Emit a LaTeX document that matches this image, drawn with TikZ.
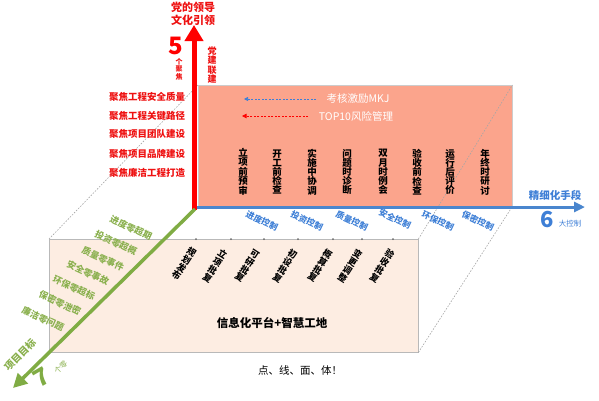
\documentclass[tikz,border=0pt]{standalone}
\usepackage{fontspec}
\newfontfamily\cjk{Noto Sans CJK SC}
\usetikzlibrary{arrows.meta}
\definecolor{axred}{HTML}{FF0000}
\definecolor{labred}{HTML}{EE1111}
\definecolor{axblue}{HTML}{4A86CE}
\definecolor{labblue}{HTML}{3E7FD6}
\definecolor{axgreen}{HTML}{80AC44}
\definecolor{labgreen}{HTML}{8AB04E}
\definecolor{salmon}{HTML}{FBA48C}
\definecolor{peach}{HTML}{FDEDE2}
\begin{document}
\begin{tikzpicture}[x=1pt,y=-1pt,font=\cjk,
  redhead/.style={text=labred,font=\cjk\bfseries\fontsize{11}{12}\selectfont,inner sep=0},
  redlbl/.style={text=labred,font=\cjk\bfseries\fontsize{9.5}{10}\selectfont,inner sep=0},
  redstack/.style={text=labred,align=center,font=\cjk\bfseries\fontsize{9}{9.3}\selectfont,inner sep=0},
  colstack/.style={align=center,font=\cjk\bfseries\fontsize{9.5}{9.2}\selectfont,inner sep=0},
  botstack/.style={align=center,font=\cjk\bfseries\fontsize{9}{9.2}\selectfont,inner sep=0,rotate=-33},
  bluelbl/.style={text=labblue,font=\cjk\bfseries\fontsize{8.5}{9}\selectfont,inner sep=0,rotate=-25},
  greenlbl/.style={text=labgreen,font=\cjk\bfseries\fontsize{9}{9}\selectfont,inner sep=0,rotate=-25},
  whitelbl/.style={text=white,font=\cjk\fontsize{10.5}{11}\selectfont,inner sep=0},
  dashline/.style={draw=gray!70,line width=0.6pt,dash pattern=on 1.6pt off 1.4pt},
  tickdot/.style={circle,fill=gray!80!black,inner sep=0,minimum size=2pt}
]
\useasboundingbox (0,0) rectangle (599,400);

% faces
\node[draw=gray!55,fill=peach,anchor=north west,inner sep=0,minimum width=369pt,minimum height=113pt] (base) at (49,239) {};
\node[draw=gray!40,fill=salmon,anchor=north west,inner sep=0,minimum width=314pt,minimum height=121pt] (top) at (198,85) {};

% dashed edges
\draw[dashline] (base.north west) -- (top.north west);
\draw[dashline] (base.north east) -- (top.north east);
\draw[dashline] (base.south east) -- (top.south east);

% axes
\coordinate (O) at (195,207);
\coordinate (redbot) at (194,210);
\coordinate (redtip) at (194,25);
\coordinate (bluetip) at (585,207);
\coordinate (greenstart) at (195,209);
\coordinate (greentip) at (13,388);
\draw[axblue,line width=3pt,-{Triangle[length=11pt,width=10pt]}] (O) -- (bluetip);
\draw[axred,line width=5pt,-{Triangle[length=16pt,width=18pt]}] (redbot) -- (redtip);
\draw[axgreen,line width=3.5pt,-{Triangle[length=14pt,width=14pt]}] (greenstart) -- (greentip);

% red axis texts
\node[redhead] (d1) at (193,7) {党的领导};
\node[redhead] (d2) at (193,20) {文化引领};
\node[text=axred,font=\cjk\bfseries\fontsize{24}{24}\selectfont,inner sep=0] (five) at (176,46) {5};
\node[redstack,font=\cjk\bfseries\fontsize{7}{7.4}\selectfont] (ge) at (179,69) {个\\聚\\焦};
\node[redstack] (djlj) at (212,65) {党\\建\\联\\建};
\node[redlbl] (r1) at (147,97) {聚焦工程安全质量};
\node[redlbl] (r2) at (147,116) {聚焦工程关键路径};
\node[redlbl] (r3) at (147,134) {聚焦项目团队建设};
\node[redlbl] (r4) at (147,154) {聚焦项目品牌建设};
\node[redlbl] (r5) at (147,173) {聚焦廉洁工程打造};

% dashed arrows in top face
\coordinate (mA) at (316,99);
\coordinate (mB) at (244,99);
\coordinate (tA) at (308,116);
\coordinate (tB) at (242,116);
\draw[labblue,line width=0.7pt,dash pattern=on 2pt off 1.5pt,-{Triangle[length=4pt,width=4pt]}] (mA) -- (mB);
\draw[axred,line width=0.8pt,dash pattern=on 2pt off 1.5pt,-{Triangle[length=4.5pt,width=4.5pt]}] (tA) -- (tB);
\node[whitelbl] (mkj) at (358,99) {考核激励MKJ};
\node[whitelbl] (top10) at (356,116) {TOP10风险管理};

% columns in top face
\node[colstack] (c1) at (243,172) {立\\项\\前\\预\\审};
\node[colstack] (c2) at (277,172) {开\\工\\前\\检\\查};
\node[colstack] (c3) at (312,172) {实\\施\\中\\协\\调};
\node[colstack] (c4) at (347,172) {问\\题\\时\\诊\\断};
\node[colstack] (c5) at (383,172) {双\\月\\时\\例\\会};
\node[colstack] (c6) at (417,172) {验\\收\\前\\检\\查};
\node[colstack] (c7) at (450,172) {运\\行\\后\\评\\价};
\node[colstack] (c8) at (485,172) {年\\终\\时\\研\\讨};

% blue axis texts
\node[text=labblue,font=\cjk\bfseries\fontsize{10.5}{11}\selectfont,inner sep=0] (jxh) at (555,195) {精细化手段};
\node[text=labblue,font=\cjk\bfseries\fontsize{22}{22}\selectfont,inner sep=0] (six) at (547,220) {6};
\node[text=labblue,font=\cjk\fontsize{7.5}{8}\selectfont,inner sep=0] (dkz) at (570,224) {大控制};
\node[bluelbl] (b1) at (262,221) {进度控制};
\node[bluelbl] (b2) at (307,221) {投资控制};
\node[bluelbl] (b3) at (352,221) {质量控制};
\node[bluelbl] (b4) at (395,219) {安全控制};
\node[bluelbl] (b5) at (438,221) {环保控制};
\node[bluelbl] (b6) at (478,221) {保密控制};

% green axis texts
\node[greenlbl] (g1) at (131,228) {进度零超期};
\node[greenlbl] (g2) at (116,243) {投资零超概};
\node[greenlbl] (g3) at (103,259) {质量零事件};
\node[greenlbl] (g4) at (88,273) {安全零事故};
\node[greenlbl] (g5) at (74,288) {环保零超标};
\node[greenlbl] (g6) at (60,303) {保密零泄密};
\node[greenlbl] (g7) at (43,319) {廉洁零问题};
\node[text=labgreen,font=\cjk\bfseries\fontsize{10}{10}\selectfont,inner sep=0,rotate=45] (xmmb) at (20,355) {项目目标};
\node[text=axgreen,font=\cjk\bfseries\fontsize{24}{24}\selectfont,inner sep=0,rotate=30] (seven) at (41,377) {7};
\node[text=labgreen,font=\cjk\fontsize{7.5}{8}\selectfont,inner sep=0,rotate=45] (gl) at (61,367) {个零};

% base face
\node[tickdot] (k1) at (196,239) {};
\node[tickdot] (k2) at (231,239) {};
\node[tickdot] (k3) at (264,239) {};
\node[tickdot] (k4) at (298,239) {};
\node[tickdot] (k5) at (333,239) {};
\node[tickdot] (k6) at (362,239) {};
\node[tickdot] (k7) at (393,239) {};
\node[botstack] (p1) at (184,264) {规\\划\\发\\布};
\node[botstack] (p2) at (215,266) {立\\项\\批\\复};
\node[botstack] (p3) at (247,266) {可\\研\\批\\复};
\node[botstack] (p4) at (285,266) {初\\设\\批\\复};
\node[botstack] (p5) at (320,266) {概\\算\\批\\复};
\node[botstack] (p6) at (350,266) {变\\更\\调\\整};
\node[botstack] (p7) at (382,266) {验\\收\\批\\复};
\node[font=\cjk\bfseries\fontsize{11.5}{12}\selectfont,inner sep=0] (xxh) at (272,323) {信息化平台+智慧工地};
\node[font=\cjk\fontsize{10.5}{11}\selectfont,inner sep=0] (dxm) at (300,370) {点、线、面、体！};
\end{tikzpicture}
\end{document}
